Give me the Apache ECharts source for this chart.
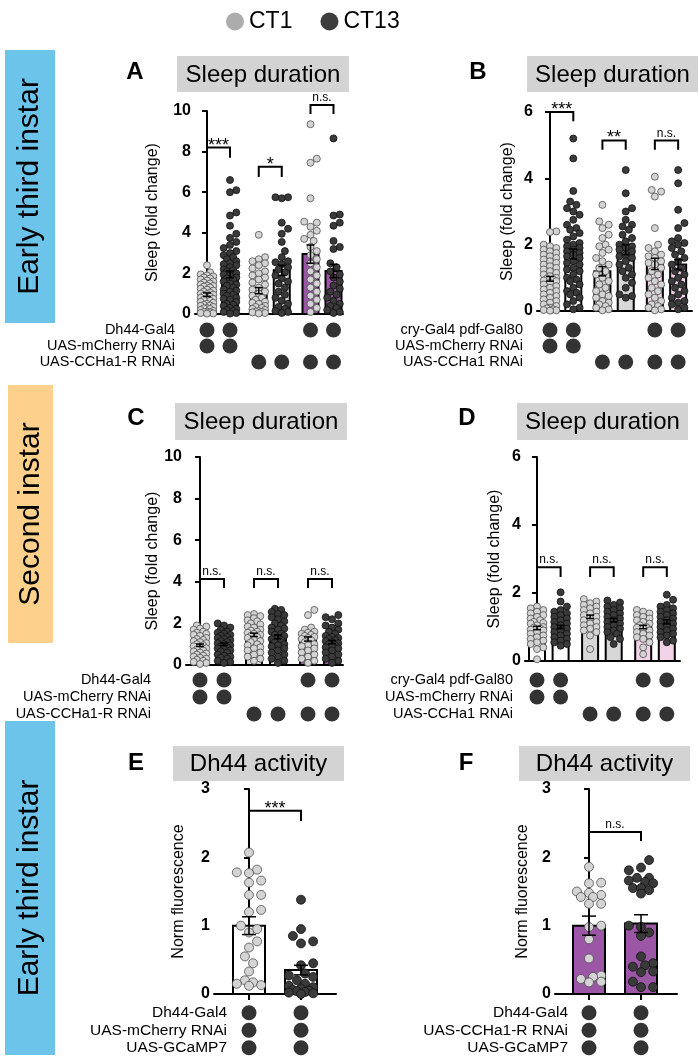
<!DOCTYPE html>
<html><head><meta charset="utf-8">
<script src="https://cdn.jsdelivr.net/npm/echarts@6/dist/echarts.min.js"></script>
<style>html,body{margin:0;padding:0;background:#fff}#c{width:700px;height:1060px}</style>
</head><body><div id="c"></div>
<script>
const FONT = '"Liberation Sans", Arial, Helvetica, sans-serif';

// ---------------- DATA ----------------
const legendLabels = ['CT1', 'CT13'];
const sideLabels = ['Early third instar', 'Second instar', 'Early third instar'];
const panelLetters = ['A', 'B', 'C', 'D', 'E', 'F'];
const panelTitles = ['Sleep duration', 'Sleep duration', 'Sleep duration', 'Sleep duration', 'Dh44 activity', 'Dh44 activity'];
const yTitleSleep = 'Sleep (fold change)';
const yTitleFluor = 'Norm fluorescence';

const rowsA = ['Dh44-Gal4', 'UAS-mCherry RNAi', 'UAS-CCHa1-R RNAi'];
const rowsB = ['cry-Gal4 pdf-Gal80', 'UAS-mCherry RNAi', 'UAS-CCHa1 RNAi'];
const rowsC = ['Dh44-Gal4', 'UAS-mCherry RNAi', 'UAS-CCHa1-R RNAi'];
const rowsD = ['cry-Gal4 pdf-Gal80', 'UAS-mCherry RNAi', 'UAS-CCHa1 RNAi'];
const rowsE = ['Dh44-Gal4', 'UAS-mCherry RNAi', 'UAS-GCaMP7'];
const rowsF = ['Dh44-Gal4', 'UAS-CCHa1-R RNAi', 'UAS-GCaMP7'];

const genoA = [[1,1,0,0,1,1],[1,1,0,0,0,0],[0,0,1,1,1,1]];
const genoB = [[1,1,0,0,1,1],[1,1,0,0,0,0],[0,0,1,1,1,1]];
const genoC = [[1,1,0,0,1,1],[1,1,0,0,0,0],[0,0,1,1,1,1]];
const genoD = [[1,1,0,0,1,1],[1,1,0,0,0,0],[0,0,1,1,1,1]];
const genoE = [[1,1],[1,1],[1,1]];
const genoF = [[1,1],[1,1],[1,1]];

const sigA = ['***', '*', 'n.s.'];
const sigB = ['***', '**', 'n.s.'];
const sigC = ['n.s.', 'n.s.', 'n.s.'];
const sigD = ['n.s.', 'n.s.', 'n.s.'];
const sigE = ['***'];
const sigF = ['n.s.'];

const meanA = [0.95, 1.95, 1.15, 2.15, 2.95, 2.12];
const semA  = [0.09, 0.17, 0.15, 0.25, 0.45, 0.33];
const ptsA = [
  [2.4,2.05,1.95,1.9,1.85,1.8,1.75,1.7,1.65,1.6,1.55,1.5,1.45,1.4,1.38,1.35,1.3,1.25,1.2,1.15,1.1,1.05,1.0,0.98,0.95,0.9,0.85,0.8,0.78,0.75,0.7,0.65,0.6,0.55,0.5,0.45,0.42,0.4,0.35,0.3,0.28,0.25,0.2,0.15,0.12,0.1,0.08,0.05,0.03,0.02],
  [6.6,6.1,6.0,5.0,4.85,4.35,3.95,3.75,3.55,3.4,3.25,3.1,3.0,2.9,2.8,2.7,2.6,2.5,2.45,2.4,2.3,2.2,2.15,2.1,2.0,1.95,1.9,1.8,1.75,1.7,1.6,1.5,1.45,1.4,1.3,1.2,1.15,1.1,1.0,0.95,0.9,0.8,0.75,0.7,0.6,0.5,0.45,0.4,0.3,0.25,0.2,0.15,0.1,0.05,0.02],
  [3.9,2.8,2.7,2.6,2.5,2.4,2.25,2.1,2.0,1.9,1.8,1.7,1.55,1.45,1.3,1.2,1.1,1.0,0.9,0.8,0.7,0.6,0.55,0.5,0.4,0.35,0.3,0.25,0.2,0.15,0.12,0.1,0.08,0.05,0.03],
  [5.75,5.75,5.7,4.5,4.2,3.95,3.55,3.1,2.8,2.6,2.55,2.45,2.3,2.2,2.05,1.9,1.75,1.6,1.5,1.3,1.1,0.95,0.8,0.65,0.5,0.35,0.25,0.15,0.1,0.05],
  [9.35,7.65,7.45,5.7,4.55,4.5,4.3,4.1,3.9,3.7,3.6,3.3,3.1,2.9,2.7,2.5,2.3,2.1,1.9,1.7,1.5,1.3,1.1,0.9,0.7,0.5,0.3,0.1],
  [8.65,4.9,4.85,4.5,4.35,3.6,3.3,3.2,2.5,2.3,2.1,1.95,1.8,1.6,1.4,1.25,1.1,0.95,0.8,0.65,0.5,0.4,0.3,0.2,0.1,0.05]
];

const meanB = [0.97, 1.72, 1.2, 1.85, 1.42, 1.4];
const semB  = [0.07, 0.15, 0.14, 0.15, 0.17, 0.15];
const ptsB = [
  [2.4,2.38,2.0,1.95,1.9,1.85,1.8,1.75,1.7,1.65,1.6,1.55,1.5,1.45,1.4,1.35,1.3,1.25,1.2,1.15,1.1,1.05,1.0,0.98,0.95,0.92,0.9,0.85,0.8,0.75,0.7,0.65,0.6,0.55,0.5,0.45,0.4,0.35,0.3,0.25,0.2,0.15,0.1,0.08,0.05,0.03,0.02,0.01],
  [5.2,4.6,3.62,3.3,3.2,3.1,3.0,2.9,2.75,2.6,2.5,2.45,2.35,2.25,2.15,2.05,2.0,1.95,1.9,1.85,1.8,1.75,1.7,1.65,1.6,1.5,1.45,1.4,1.3,1.25,1.2,1.1,1.0,0.95,0.9,0.8,0.7,0.6,0.55,0.5,0.4,0.3,0.2,0.1,0.05],
  [3.2,2.7,2.6,2.5,2.3,2.2,2.0,1.95,1.85,1.75,1.6,1.5,1.4,1.3,1.2,1.1,1.0,0.9,0.8,0.7,0.6,0.5,0.45,0.4,0.3,0.25,0.2,0.15,0.1,0.05,0.02],
  [4.25,3.55,3.1,3.0,2.75,2.6,2.55,2.45,2.3,2.2,2.1,2.0,1.95,1.9,1.85,1.8,1.7,1.65,1.6,1.5,1.4,1.3,1.2,1.1,1.0,0.85,0.7,0.5,0.45,0.4],
  [4.05,3.65,3.6,3.45,2.5,2.0,1.9,1.8,1.7,1.65,1.6,1.5,1.45,1.4,1.3,1.2,1.1,1.0,0.9,0.8,0.7,0.6,0.5,0.4,0.3,0.2,0.15,0.1,0.05,0.02],
  [4.25,3.85,3.05,2.65,2.5,2.2,2.1,2.05,2.0,1.9,1.8,1.7,1.6,1.5,1.4,1.3,1.2,1.1,1.0,0.9,0.8,0.7,0.6,0.5,0.4,0.3,0.25,0.2,0.1,0.05]
];

const meanC = [0.95, 1.0, 1.45, 1.35, 1.25, 1.1];
const semC  = [0.06, 0.06, 0.08, 0.09, 0.1, 0.08];
const ptsC = [
  [1.9,1.85,1.75,1.7,1.6,1.55,1.5,1.45,1.4,1.3,1.25,1.2,1.15,1.1,1.05,1.0,0.95,0.9,0.85,0.8,0.75,0.7,0.65,0.6,0.55,0.5,0.45,0.4,0.35,0.3,0.25,0.2,0.15,0.1,0.05],
  [2.0,1.9,1.8,1.7,1.6,1.55,1.5,1.45,1.4,1.35,1.3,1.25,1.2,1.15,1.1,1.05,1.0,0.95,0.9,0.85,0.8,0.75,0.7,0.65,0.6,0.5,0.45,0.4,0.35,0.3,0.2,0.15,0.1],
  [2.45,2.4,2.35,2.25,2.15,2.1,2.0,1.95,1.85,1.8,1.7,1.65,1.6,1.55,1.5,1.45,1.4,1.35,1.3,1.2,1.15,1.1,1.0,0.95,0.85,0.8,0.7,0.6,0.5,0.4,0.3,0.2],
  [2.7,2.65,2.55,2.45,2.4,2.3,2.2,2.1,2.0,1.9,1.8,1.75,1.7,1.6,1.5,1.45,1.4,1.3,1.25,1.2,1.1,1.0,0.95,0.9,0.8,0.7,0.6,0.5,0.4,0.3,0.2,0.1],
  [2.65,2.4,1.8,1.7,1.6,1.55,1.5,1.45,1.4,1.35,1.3,1.25,1.2,1.1,1.0,0.95,0.9,0.8,0.7,0.6,0.5,0.4,0.3,0.2,0.1],
  [2.4,2.3,2.2,2.0,1.9,1.8,1.7,1.6,1.5,1.4,1.35,1.3,1.25,1.2,1.15,1.1,1.05,1.0,0.95,0.9,0.85,0.8,0.7,0.6,0.5,0.4,0.3,0.2,0.1]
];

const meanD = [0.97, 1.0, 1.3, 1.2, 1.0, 1.15];
const semD  = [0.05, 0.05, 0.05, 0.05, 0.05, 0.06];
const ptsD = [
  [1.6,1.55,1.5,1.45,1.4,1.35,1.3,1.25,1.2,1.15,1.12,1.1,1.05,1.0,0.98,0.95,0.92,0.9,0.85,0.8,0.75,0.7,0.65,0.6,0.55,0.5,0.4,0.35,0.05],
  [2.02,1.75,1.6,1.5,1.45,1.4,1.35,1.3,1.25,1.2,1.15,1.1,1.05,1.0,0.95,0.9,0.85,0.8,0.75,0.7,0.65,0.6,0.55,0.5,0.45],
  [1.82,1.75,1.7,1.65,1.6,1.55,1.5,1.45,1.4,1.35,1.3,1.25,1.2,1.15,1.1,1.05,1.0,0.95,0.9,0.85,0.75,0.35],
  [1.78,1.72,1.65,1.6,1.55,1.5,1.45,1.4,1.35,1.3,1.25,1.2,1.15,1.1,1.05,1.0,0.95,0.9,0.85,0.8,0.7,0.65,0.5],
  [1.5,1.45,1.4,1.35,1.3,1.25,1.2,1.15,1.1,1.05,1.0,0.98,0.95,0.9,0.85,0.8,0.75,0.7,0.65,0.55,0.4,0.2],
  [1.95,1.8,1.65,1.6,1.55,1.5,1.45,1.4,1.35,1.3,1.25,1.2,1.15,1.1,1.05,1.0,0.95,0.9,0.85,0.8,0.75,0.7,0.6,0.55]
];

const meanE = [1.0, 0.35];
const semE  = [0.13, 0.07];
const ptsE = [
  [2.07,1.82,1.78,1.77,1.66,1.63,1.45,1.45,1.23,1.2,1.0,0.95,0.9,0.77,0.68,0.55,0.45,0.33,0.2,0.17,0.15,0.13,0.12],
  [1.38,0.95,0.85,0.77,0.74,0.45,0.42,0.3,0.27,0.25,0.2,0.15,0.12,0.1,0.08,0.06,0.05,0.04,0.03,0.02,0.01,0.0]
];

const meanF = [1.0, 1.03];
const semF  = [0.14, 0.13];
const ptsF = [
  [1.86,1.63,1.62,1.5,1.48,1.45,1.42,1.42,1.32,1.32,1.0,0.98,0.8,0.52,0.27,0.25,0.22,0.18,0.17],
  [1.96,1.85,1.81,1.7,1.7,1.66,1.64,1.62,1.55,1.55,1.52,1.47,1.0,0.98,0.9,0.85,0.55,0.45,0.42,0.4,0.33,0.32,0.18,0.1,0.1]
];

// ---------------- LAYOUT / STYLE ----------------
const WHITE = '#ffffff', GRAY = '#d7d7d7', PURPLE = '#9b57a5', PINK = '#f1d2e8';
const layout = {
  A: {grid:{left:195, top:111, width:148, height:203}, first:207, unit:23, ymax:10, yint:2, bw:16, cap:8, dot:7, half:7,
      fills:[WHITE,WHITE,GRAY,GRAY,PURPLE,PURPLE], nameGap:34, brackets:[[8.2,7.7],[7.25,6.75],[10.3,9.85]],
      geno:{top:322, rowH:16, labelRight:175, fs:14.5}, title:{x:177,y:56,w:172,h:36}, letter:{x:135,y:72}},
  B: {grid:{left:537, top:112, width:155, height:199}, first:550, unit:23.3, ymax:6, yint:2, bw:16, cap:8, dot:7, half:7,
      fills:[WHITE,WHITE,GRAY,GRAY,PINK,PINK], nameGap:21, brackets:[[6.0,5.72],[5.14,4.86],[5.14,4.86]],
      geno:{top:322, rowH:16, labelRight:523, fs:14.5}, title:{x:527,y:56,w:171,h:36}, letter:{x:478,y:72}},
  C: {grid:{left:186, top:457, width:157, height:208}, first:200, unit:24, ymax:10, yint:2, bw:16, cap:8, dot:7, half:7,
      fills:[WHITE,WHITE,GRAY,GRAY,PURPLE,PURPLE], nameGap:23, brackets:[[4.13,3.7],[4.13,3.7],[4.13,3.7]],
      geno:{top:671.5, rowH:17, labelRight:151, fs:14.5}, title:{x:175,y:403,w:172,h:37}, letter:{x:136,y:418}},
  D: {grid:{left:525, top:457, width:155, height:204}, first:537, unit:23.6, ymax:6, yint:2, bw:16, cap:8, dot:7, half:7,
      fills:[WHITE,WHITE,GRAY,GRAY,PINK,PINK], nameGap:22, brackets:[[2.76,2.47],[2.76,2.47],[2.76,2.47]],
      geno:{top:671.5, rowH:17, labelRight:513, fs:14.5}, title:{x:517,y:403,w:171,h:37}, letter:{x:467,y:418}},
  E: {grid:{left:214, top:789, width:122, height:205}, first:249, unit:52, ymax:3, yint:1, bw:32, cap:14, dot:9, half:13,
      fills:[WHITE,WHITE], nameGap:27, brackets:[[2.68,2.53]], xticks:true,
      geno:{top:1004, rowH:17.5, labelRight:227, fs:15.5}, title:{x:173,y:746,w:171,h:35}, letter:{x:136,y:763}},
  F: {grid:{left:555, top:789, width:122, height:205}, first:589, unit:52, ymax:3, yint:1, bw:32, cap:14, dot:9, half:13,
      fills:[PURPLE,PURPLE], nameGap:24, brackets:[[2.37,2.24]], xticks:true,
      geno:{top:1004, rowH:17.5, labelRight:568, fs:15.5}, title:{x:519,y:746,w:171,h:35}, letter:{x:466,y:763}}
};

const panels = [
  {key:'A', rows:rowsA, geno:genoA, mean:meanA, sem:semA, pts:ptsA, sig:sigA, yTitle:yTitleSleep},
  {key:'B', rows:rowsB, geno:genoB, mean:meanB, sem:semB, pts:ptsB, sig:sigB, yTitle:yTitleSleep},
  {key:'C', rows:rowsC, geno:genoC, mean:meanC, sem:semC, pts:ptsC, sig:sigC, yTitle:yTitleSleep},
  {key:'D', rows:rowsD, geno:genoD, mean:meanD, sem:semD, pts:ptsD, sig:sigD, yTitle:yTitleSleep},
  {key:'E', rows:rowsE, geno:genoE, mean:meanE, sem:semE, pts:ptsE, sig:sigE, yTitle:yTitleFluor},
  {key:'F', rows:rowsF, geno:genoF, mean:meanF, sem:semF, pts:ptsF, sig:sigF, yTitle:yTitleFluor}
];

// deterministic beeswarm (pixel space)
function swarm(vals, pxPerY, r, maxHalf) {
  const placed = [], offs = new Array(vals.length);
  const order = vals.map((v, i) => i).sort((a, b) => vals[a] - vals[b]);
  const step = r * 0.9;
  const kmax = 2 * Math.ceil(maxHalf / step);
  for (const i of order) {
    const y = vals[i] * pxPerY;
    let best = 0, bestD = -1;
    for (let k = 0; k <= kmax; k++) {
      const off = (k % 2 ? 1 : -1) * Math.ceil(k / 2) * step;
      if (Math.abs(off) > maxHalf) continue;
      let minD = Infinity;
      for (const p of placed) { const d = Math.hypot(p[0] - off, p[1] - y); if (d < minD) minD = d; }
      if (minD >= 2 * r * 0.95) { best = off; break; }
      if (minD > bestD) { bestD = minD; best = off; }
    }
    placed.push([best, y]); offs[i] = best;
  }
  return offs;
}

const option = {
  animation: false, backgroundColor: '#fff',
  textStyle: {fontFamily: FONT},
  grid: [], xAxis: [], yAxis: [], series: [], graphic: [],
  legend: {
    left: 221, top: 5, itemWidth: 18, itemHeight: 18, itemGap: 28, selectedMode: false,
    textStyle: {fontSize: 23, fontFamily: FONT, color: '#000'},
    data: [
      {name: legendLabels[0], icon: 'circle', itemStyle: {color: '#acacac', borderWidth: 0}},
      {name: legendLabels[1], icon: 'circle', itemStyle: {color: '#3d3d3d', borderWidth: 0}}
    ]
  }
};

// side labels
const sideBoxes = [
  {x:5, y:50, w:50, h:273, c:'#6cc4ea'},
  {x:8, y:385, w:45, h:258, c:'#fdd18b'},
  {x:5, y:721, w:50, h:334, c:'#6cc4ea'}
];
sideBoxes.forEach((b, i) => {
  option.graphic.push({type:'rect', shape:{x:b.x, y:b.y, width:b.w, height:b.h}, style:{fill:b.c}, z:1});
  option.graphic.push({type:'text', x:b.x + b.w/2, y:b.y + b.h/2, rotation:Math.PI/2,
    style:{text:sideLabels[i], font:'30px ' + FONT, fill:'#000', textAlign:'center', textVerticalAlign:'middle'}, z:2});
});

panels.forEach((P, k) => {
  const L = layout[P.key];
  const pos = i => P.mean.length === 2 ? i : i + 0.25 * Math.floor(i / 2);
  const g = L.grid;
  const gi = option.grid.length;
  option.grid.push({left:g.left, top:g.top, width:g.width, height:g.height});
  option.xAxis.push({type:'value', gridIndex:gi, min:(g.left - L.first)/L.unit, max:(g.left + g.width - L.first)/L.unit,
    axisLine:{show:true, onZero:false, lineStyle:{color:'#000', width:2}}, axisTick:{show:false}, axisLabel:{show:false}, splitLine:{show:false}});
  option.yAxis.push({type:'value', gridIndex:gi, min:0, max:L.ymax, interval:L.yint,
    name:P.yTitle, nameLocation:'middle', nameGap:L.nameGap, nameTextStyle:{fontSize:16, color:'#000', fontFamily:FONT},
    axisLine:{show:true, lineStyle:{color:'#000', width:2}}, axisTick:{show:true, length:5, lineStyle:{color:'#000', width:2}},
    axisLabel:{fontSize:16, fontWeight:'bold', color:'#000', margin:4, fontFamily:FONT}, splitLine:{show:false}});

  // genotype grid
  const G = L.geno;
  const gg = option.grid.length;
  const gLeft = G.labelRight + 6, gRight = g.left + g.width;
  option.grid.push({left:gLeft, top:G.top, width:gRight - gLeft, height:G.rowH * 3});
  option.xAxis.push({type:'value', gridIndex:gg, show:false, min:(gLeft - L.first)/L.unit, max:(gRight - L.first)/L.unit});
  option.yAxis.push({type:'category', gridIndex:gg, inverse:true, data:P.rows,
    axisLine:{show:false}, axisTick:{show:false}, splitLine:{show:false},
    axisLabel:{interval:0, fontSize:G.fs, color:'#000', margin:6, fontFamily:FONT}});
  const gdata = [];
  P.geno.forEach((row, r) => row.forEach((v, i) => { if (v) gdata.push([pos(i), r]); }));
  option.series.push({type:'scatter', xAxisIndex:gg, yAxisIndex:gg, data:gdata, symbol:'circle', symbolSize:15,
    itemStyle:{color:'#000'}, silent:true, z:2});

  // bars
  const fills = L.fills, bw = L.bw, xt = !!L.xticks;
  option.series.push({type:'custom', xAxisIndex:gi, yAxisIndex:gi, clip:false, z:2, silent:true,
    data:P.mean.map((m, i) => [pos(i), m]),
    renderItem: (params, api) => {
      const p0 = api.coord([api.value(0), 0]), p1 = api.coord([api.value(0), api.value(1)]);
      const ch = [{type:'rect', shape:{x:p0[0] - bw/2, y:p1[1], width:bw, height:p0[1] - p1[1]},
        style:{fill:fills[params.dataIndex], stroke:'#000', lineWidth:2}}];
      if (xt) ch.push({type:'line', shape:{x1:p0[0], y1:p0[1], x2:p0[0], y2:p0[1] + 6}, style:{stroke:'#000', lineWidth:2}});
      return {type:'group', children:ch};
    }});

  // dots
  const pxPerY = g.height / L.ymax;
  [0, 1].forEach(s => {
    const data = [];
    P.pts.forEach((arr, i) => {
      if (i % 2 !== s) return;
      const offs = swarm(arr, pxPerY, L.dot / 2, L.half);
      arr.forEach((v, j) => data.push([pos(i) + offs[j] / L.unit, v]));
    });
    option.series.push({type:'scatter', name:legendLabels[s], xAxisIndex:gi, yAxisIndex:gi, data, symbol:'circle',
      symbolSize:L.dot, silent:true, z:3,
      itemStyle:{color: s ? '#3a3a3a' : '#d4d4d4', borderColor: s ? '#111' : '#4d4d4d', borderWidth:0.8, opacity:1}});
  });

  // error bars
  const cap = L.cap;
  option.series.push({type:'custom', xAxisIndex:gi, yAxisIndex:gi, clip:false, z:4, silent:true,
    data:P.mean.map((m, i) => [pos(i), m, P.sem[i]]),
    renderItem: (params, api) => {
      const x = api.value(0), m = api.value(1), s = api.value(2);
      const a = api.coord([x, m - s]), b = api.coord([x, m + s]);
      return {type:'group', children:[
        {type:'line', shape:{x1:a[0], y1:a[1], x2:b[0], y2:b[1]}, style:{stroke:'#000', lineWidth:1.5}},
        {type:'line', shape:{x1:a[0] - cap/2, y1:a[1], x2:a[0] + cap/2, y2:a[1]}, style:{stroke:'#000', lineWidth:1.5}},
        {type:'line', shape:{x1:b[0] - cap/2, y1:b[1], x2:b[0] + cap/2, y2:b[1]}, style:{stroke:'#000', lineWidth:1.5}}
      ]};
    }});

  // significance brackets
  const sig = P.sig;
  option.series.push({type:'custom', xAxisIndex:gi, yAxisIndex:gi, clip:false, z:4, silent:true,
    data:sig.map((t, j) => [pos(2*j), pos(2*j + 1), L.brackets[j][0], L.brackets[j][1]]),
    renderItem: (params, api) => {
      const x1 = api.value(0), x2 = api.value(1), yt = api.value(2), yl = api.value(3);
      const a = api.coord([x1, yl]), b = api.coord([x1, yt]), c = api.coord([x2, yt]), d = api.coord([x2, yl]);
      const t = sig[params.dataIndex];
      const star = t.indexOf('*') >= 0;
      return {type:'group', children:[
        {type:'polyline', shape:{points:[a, b, c, d]}, style:{stroke:'#000', lineWidth:2, fill:null}},
        {type:'text', x:(b[0] + c[0]) / 2, y: star ? b[1] + 7 : b[1] - 1,
          style:{text:t, font: star ? '18px ' + FONT : '12px ' + FONT, fill:'#000', textAlign:'center', textVerticalAlign:'bottom'}}
      ]};
    }});

  // title box + letter
  const T = L.title;
  option.graphic.push({type:'rect', shape:{x:T.x, y:T.y, width:T.w, height:T.h}, style:{fill:'#d3d3d3'}, z:1});
  option.graphic.push({type:'text', x:T.x + T.w/2, y:T.y + T.h/2 + 1,
    style:{text:panelTitles[k], font:'24px ' + FONT, fill:'#000', textAlign:'center', textVerticalAlign:'middle'}, z:2});
  option.graphic.push({type:'text', x:L.letter.x, y:L.letter.y,
    style:{text:panelLetters[k], font:'bold 24px ' + FONT, fill:'#000', textAlign:'center', textVerticalAlign:'middle'}, z:2});
});

const chart = echarts.init(document.getElementById('c'), null, {renderer:'canvas', width:700, height:1060});
chart.setOption(option);
</script>
</body></html>
